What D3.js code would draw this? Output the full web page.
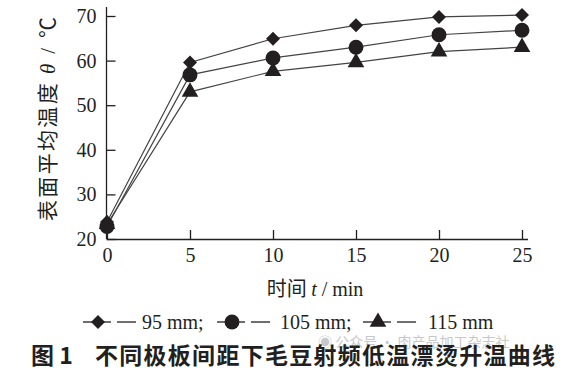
<!DOCTYPE html>
<html><head><meta charset="utf-8">
<script src="https://cdn.jsdelivr.net/npm/d3@7"></script>
<style>body{margin:0;background:#fff}svg{display:block}</style>
</head><body>
<script>
const times = [0, 5, 10, 15, 20, 25];
const s95 = [23.8, 59.6, 64.9, 67.9, 69.8, 70.2];
const s105 = [22.8, 56.8, 60.6, 63.0, 65.8, 66.8];
const s115 = [23.3, 53.0, 57.6, 59.6, 62.0, 63.0];
const xTicks = [0, 5, 10, 15, 20, 25];
const yTicks = [20, 30, 40, 50, 60, 70];
const seriesNames = ["95 mm;", "105 mm;", "115 mm"];

const W = 565, H = 371;
const svg = d3.select("body").append("svg").attr("width", W).attr("height", H);
const x = d3.scaleLinear().domain([0, 25]).range([107, 522]);
const y = d3.scaleLinear().domain([20, 70]).range([239, 16]);
const ink = "#231f20";
const serif = "'Liberation Serif','DejaVu Serif',serif";
const cjk = "'Noto Sans CJK SC',sans-serif";

// axes
const xa = svg.append("g").attr("transform", "translate(0,239)")
  .call(d3.axisBottom(x).tickValues(xTicks).tickSizeInner(-9).tickSizeOuter(0).tickPadding(20));
xa.select(".domain").attr("d", `M${x(0)},0.5H528`);
const ya = svg.append("g").attr("transform", "translate(106.5,0)")
  .call(d3.axisLeft(y).tickValues(yTicks).tickSizeInner(-9).tickSizeOuter(0).tickPadding(10));
ya.select(".domain").attr("d", `M0,7V239`);
[xa, ya].forEach(g => {
  g.selectAll("path,line").attr("stroke", ink).attr("stroke-width", 1.3);
  g.selectAll("text").attr("font-family", serif).attr("font-size", 20).attr("fill", ink);
});
xa.selectAll("text").attr("dy", "0.71em").attr("y", 9);

// lines and markers
const series = [
  {vals: s95, sym: d3.symbolDiamond2, size: 125},
  {vals: s105, sym: d3.symbolCircle, size: 175},
  {vals: s115, sym: d3.symbolTriangle, size: 120},
];
const line = d3.line().x((d, i) => x(times[i])).y(d => y(d));
series.forEach(s => {
  svg.append("path").attr("d", line(s.vals)).attr("fill", "none")
    .attr("stroke", "#444").attr("stroke-width", 1.2);
});
series.forEach(s => {
  svg.append("g").selectAll("path").data(s.vals).join("path")
    .attr("transform", (d, i) => `translate(${x(times[i])},${y(d)})`)
    .attr("d", d3.symbol().type(s.sym).size(s.size)).attr("fill", ink);
});

// axis titles
const yt = svg.append("text").attr("transform", "translate(55,119) rotate(-90)")
  .attr("text-anchor", "middle").attr("font-size", 21).attr("fill", ink)
  .attr("textLength", 204).attr("lengthAdjust", "spacing");
yt.append("tspan").attr("font-family", cjk).text("表面平均温度 ");
yt.append("tspan").attr("font-family", serif).attr("font-style", "italic").text("θ");
yt.append("tspan").attr("font-family", serif).text(" / ");
yt.append("tspan").attr("font-family", cjk).text("℃");

const xt = svg.append("text").attr("x", 315).attr("y", 296)
  .attr("text-anchor", "middle").attr("font-size", 20).attr("fill", ink);
xt.append("tspan").attr("font-family", cjk).text("时间 ");
xt.append("tspan").attr("font-family", serif).attr("font-style", "italic").text("t");
xt.append("tspan").attr("font-family", serif).text(" / min");

// legend
const legStart = [83, 217, 363];
const legText = [142, 280, 428];
const lg = svg.append("g");
series.forEach((s, i) => {
  const x0 = legStart[i], yy = 322;
  lg.append("line").attr("x1", x0).attr("x2", x0 + 28).attr("y1", yy).attr("y2", yy)
    .attr("stroke", ink).attr("stroke-width", 1.3);
  lg.append("line").attr("x1", x0 + 34).attr("x2", x0 + 53).attr("y1", yy).attr("y2", yy)
    .attr("stroke", ink).attr("stroke-width", 1.3);
  lg.append("path").attr("transform", `translate(${x0 + 15},${yy})`)
    .attr("d", d3.symbol().type(s.sym).size(s.size)).attr("fill", ink);
  lg.append("text").attr("x", legText[i]).attr("y", yy + 7).attr("font-family", serif)
    .attr("font-size", 20).attr("fill", ink).text(seriesNames[i]);
});

// watermark
svg.append("text").attr("x", 318).attr("y", 347).attr("font-family", cjk).attr("font-size", 14)
  .attr("fill", "#bbb").attr("opacity", 0.8).text("◉ 公众号 · 肉产品加工杂志社");

// caption
svg.append("text").attr("x", 31).attr("y", 364).attr("font-family", cjk).attr("font-weight", "bold")
  .attr("font-size", 23).attr("fill", ink).text("图 1");
svg.append("text").attr("x", 95).attr("y", 364).attr("font-family", cjk).attr("font-weight", "bold")
  .attr("font-size", 23).attr("fill", ink).attr("textLength", 460).attr("lengthAdjust", "spacing")
  .text("不同极板间距下毛豆射频低温漂烫升温曲线");
</script>
</body></html>
